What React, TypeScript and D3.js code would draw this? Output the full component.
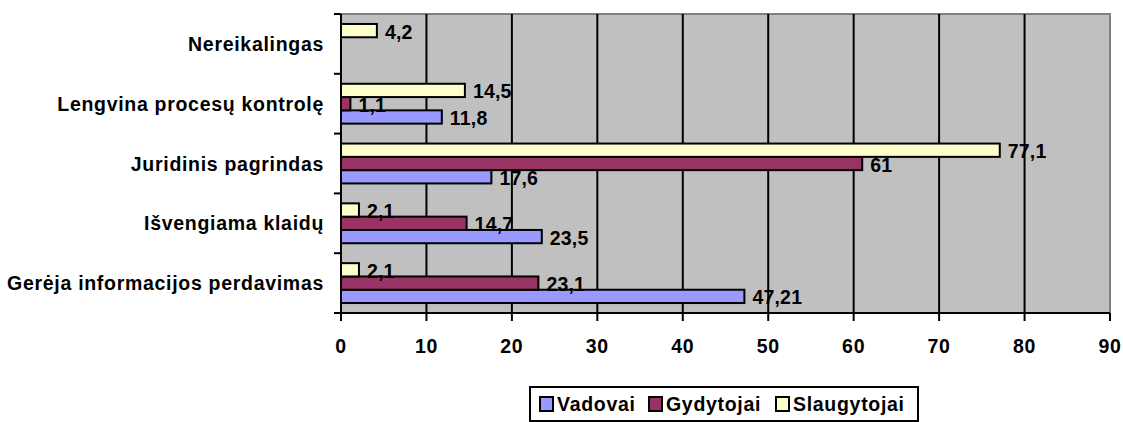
import React from "react";
import * as d3 from "d3";

// Survey answers by respondent group (percent)
const categories = [
  "Gerėja informacijos perdavimas",
  "Išvengiama klaidų",
  "Juridinis pagrindas",
  "Lengvina procesų kontrolę",
  "Nereikalingas",
];
const vadovai: (number | null)[] = [47.21, 23.5, 17.6, 11.8, null];
const gydytojai: (number | null)[] = [23.1, 14.7, 61, 1.1, null];
const slaugytojai: (number | null)[] = [2.1, 2.1, 77.1, 14.5, 4.2];

const seriesNames = ["Vadovai", "Gydytojai", "Slaugytojai"];
const xTicks = [0, 10, 20, 30, 40, 50, 60, 70, 80, 90];

const W = 1123;
const H = 422;
const plot = { left: 341, right: 1110, top: 14, bottom: 313 };
const FONT = "'Liberation Sans', Arial, sans-serif";
const FS = 19.5;
const LS = 0.7;
const colors: Record<string, string> = {
  Vadovai: "#9999FF",
  Gydytojai: "#993366",
  Slaugytojai: "#FFFFCC",
};

export default function App() {
  const x = d3.scaleLinear().domain([0, 90]).range([plot.left, plot.right]);
  const y = d3
    .scaleBand<string>()
    .domain([...categories].reverse())
    .range([plot.top, plot.bottom])
    .paddingInner(0)
    .paddingOuter(0);
  // inside each category: Slaugytojai on top, Vadovai at the bottom
  const inner = d3
    .scaleBand<string>()
    .domain([...seriesNames].reverse())
    .range([0, y.bandwidth()])
    .paddingInner(0)
    .paddingOuter(0.75);

  const values: Record<string, (number | null)[]> = {
    Vadovai: vadovai,
    Gydytojai: gydytojai,
    Slaugytojai: slaugytojai,
  };

  const fmt = (v: number) => String(v).replace(".", ",");

  const legend = { x: 530, y: 387, w: 388, h: 34 };
  const legendItems = [
    { name: "Vadovai", sx: 540, tx: 557 },
    { name: "Gydytojai", sx: 649, tx: 666 },
    { name: "Slaugytojai", sx: 776, tx: 793 },
  ];

  return (
    <svg
      width={W}
      height={H}
      style={{ position: "absolute", left: 0, top: 0, background: "#fff" }}
      fontFamily={FONT}
      fontWeight="bold"
      letterSpacing={LS}
    >
      {/* plot background */}
      <rect
        x={plot.left}
        y={plot.top}
        width={plot.right - plot.left}
        height={plot.bottom - plot.top}
        fill="#C0C0C0"
        stroke="#808080"
        strokeWidth={2}
      />
      {/* vertical grid lines */}
      {xTicks.slice(1, -1).map((t) => (
        <line
          key={"g" + t}
          x1={x(t)}
          x2={x(t)}
          y1={plot.top}
          y2={plot.bottom}
          stroke="#000"
          strokeWidth={2}
        />
      ))}
      {/* category axis */}
      <line x1={plot.left} x2={plot.left} y1={plot.top} y2={plot.bottom} stroke="#000" strokeWidth={2} />
      {[...y.domain(), "end"].map((c, i) => {
        const yy = plot.top + i * y.step();
        return <line key={"yt" + i} x1={plot.left - 7} x2={plot.left} y1={yy} y2={yy} stroke="#000" strokeWidth={2} />;
      })}
      {categories.map((c) => (
        <text
          key={"cl" + c}
          x={324}
          y={(y(c) as number) + y.bandwidth() / 2}
          textAnchor="end"
          dominantBaseline="central"
          fontSize={FS}
          fill="#000"
        >
          {c}
        </text>
      ))}
      {/* value axis */}
      <line x1={plot.left} x2={plot.right} y1={plot.bottom} y2={plot.bottom} stroke="#000" strokeWidth={2} />
      {xTicks.map((t) => (
        <g key={"xt" + t}>
          <line x1={x(t)} x2={x(t)} y1={plot.bottom} y2={plot.bottom + 8} stroke="#000" strokeWidth={2} />
          <text x={x(t)} y={346} textAnchor="middle" dominantBaseline="central" fontSize={FS} fill="#000">
            {t}
          </text>
        </g>
      ))}
      {/* bars */}
      {seriesNames.map((s) =>
        categories.map((c, i) => {
          const v = values[s][i];
          if (v == null) return null;
          const by = (y(c) as number) + (inner(s) as number);
          const bh = inner.bandwidth();
          return (
            <g key={s + c}>
              <rect
                x={x(0)}
                y={by}
                width={x(v) - x(0)}
                height={bh}
                fill={colors[s]}
                stroke="#000"
                strokeWidth={2}
              />
              <text
                x={x(v) + 8}
                y={by + bh / 2 + 1}
                dominantBaseline="central"
                fontSize={FS}
                letterSpacing={0.2}
                fill="#000"
              >
                {fmt(v)}
              </text>
            </g>
          );
        })
      )}
      {/* legend */}
      <rect x={legend.x} y={legend.y} width={legend.w} height={legend.h} fill="#fff" stroke="#000" strokeWidth={2} />
      {legendItems.map((it) => (
        <g key={"lg" + it.name}>
          <rect x={it.sx} y={397} width={13} height={14} fill={colors[it.name]} stroke="#000" strokeWidth={2} />
          <text x={it.tx} y={404} dominantBaseline="central" fontSize={FS} fill="#000">
            {it.name}
          </text>
        </g>
      ))}
    </svg>
  );
}
